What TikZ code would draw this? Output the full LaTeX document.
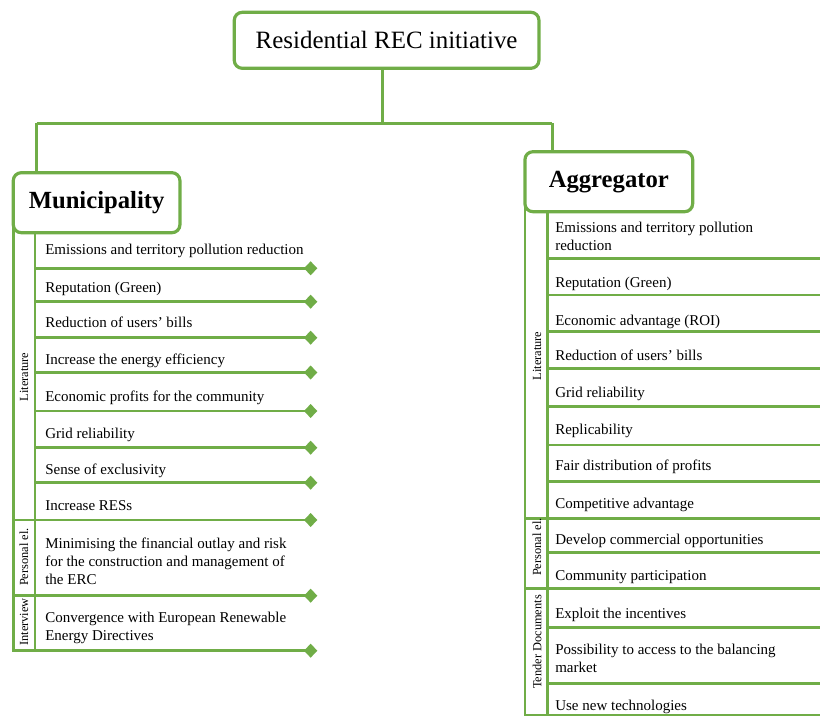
\documentclass[tikz,border=0pt]{standalone}
\usepackage{fontspec}
\setmainfont{Liberation Serif}
\usetikzlibrary{arrows.meta}
\definecolor{grn}{RGB}{112,173,71}
\begin{document}
\begin{tikzpicture}[x=0.75pt,y=-0.75pt,
  box/.style={draw=grn, line width=2.4pt, rounded corners=6pt, fill=white, inner sep=0pt},
  gline/.style={draw=grn, line width=1.9pt},
  dline/.style={gline, -{Diamond[length=10pt,width=10.5pt]}},
  rowtxt/.style={anchor=base west, font=\fontsize{11.25}{13.5}\selectfont, inner sep=0pt, align=left},
  lbl/.style={rotate=90, font=\fontsize{9.3}{11}\selectfont, inner sep=0pt},
  headtxt/.style={font=\fontsize{18.5}{22}\selectfont\bfseries}]
\useasboundingbox (0,0) rectangle (820,720);
\clip (0,0) rectangle (820,720);

% ---- top connectors
\coordinate (hub) at (382.7,123.3);
\coordinate (mj) at (36.7,123.3);
\coordinate (aj) at (552.3,123.3);

% ---- left column lines
\foreach \y in {268.3,301.7,337.7,372.5,411,447.7,482.7}
  \draw[dline] (35,\y) -- (317.3,\y);
\foreach \y in {520,595.7}
  \draw[dline] (13.3,\y) -- (317.3,\y);
\draw[dline, line join=miter] (13.3,225) -- (13.3,650.7) -- (317.3,650.7);
\draw[gline] (35,232.7) -- (35,650.7);

% ---- right column lines
\foreach \y in {258.3,295,331.7,368.3,406.7,445,481.7,552.7,627.3,683.3}
  \draw[dline] (547.7,\y) -- (833,\y);
\foreach \y in {518.3,588.3}
  \draw[dline] (525,\y) -- (833,\y);
\draw[dline, line join=miter] (525,205) -- (525,715) -- (833,715);
\draw[gline] (547.7,211.7) -- (547.7,715);

% ---- boxes
\node[box, minimum width=228.5pt, minimum height=42pt, font=\fontsize{18.7}{22}\selectfont]
  (top) at (386.6,40.3) {Residential REC initiative};
\node[box, minimum width=125pt, minimum height=45pt, headtxt] (mun) at (96.6,202.7) {Municipality};
\node[box, minimum width=125.8pt, minimum height=45pt, headtxt] (agg) at (608.8,181.7) {Aggregator};

\draw[gline] (hub |- top.south) -- (hub);
\draw[gline] (mj) -- (aj);
\draw[gline] (mj) -- (mj |- mun.north);
\draw[gline] (aj) -- (aj |- agg.north);

% ---- left texts (base = baseline of last line)
\node[rowtxt] (m1) at (45,254.7) {Emissions and territory pollution reduction};
\node[rowtxt] (m2) at (45,292) {Reputation (Green)};
\node[rowtxt] (m3) at (45,327.7) {Reduction of users’ bills};
\node[rowtxt] (m4) at (45,364.7) {Increase the energy efficiency};
\node[rowtxt] (m5) at (45,401.4) {Economic profits for the community};
\node[rowtxt] (m6) at (45,438) {Grid reliability};
\node[rowtxt] (m7) at (45,474.4) {Sense of exclusivity};
\node[rowtxt] (m8) at (45,510.4) {Increase RESs};
\node[rowtxt] (m9) at (45,584.7) {Minimising the financial outlay and risk\\for the construction and management of\\the ERC};
\node[rowtxt] (m10) at (45,640.4) {Convergence with European Renewable\\Energy Directives};

\node[lbl] (ml1) at (24,377) {Literature};
\node[lbl] (ml2) at (24,557) {Personal el.};
\node[lbl] (ml3) at (24,622) {Interview};

% ---- right texts
\node[rowtxt] (a1) at (555,250.4) {Emissions and territory pollution\\reduction};
\node[rowtxt] (a2) at (555,287.1) {Reputation (Green)};
\node[rowtxt] (a3) at (555,325.4) {Economic advantage (ROI)};
\node[rowtxt] (a4) at (555,360.4) {Reduction of users’ bills};
\node[rowtxt] (a5) at (555,397.1) {Grid reliability};
\node[rowtxt] (a6) at (555,434.7) {Replicability};
\node[rowtxt] (a7) at (555,470.4) {Fair distribution of profits};
\node[rowtxt] (a8) at (555,508.1) {Competitive advantage};
\node[rowtxt] (a9) at (555,544.7) {Develop commercial opportunities};
\node[rowtxt] (a10) at (555,580.4) {Community participation};
\node[rowtxt] (a11) at (555,618.7) {Exploit the incentives};
\node[rowtxt] (a12) at (555,672.1) {Possibility to access to the balancing\\market};
\node[rowtxt] (a13) at (555,710.4) {Use new technologies};

\node[lbl] (al1) at (537,356) {Literature};
\node[lbl] (al2) at (537,547) {Personal el.};
\node[lbl] (al3) at (537,642) {Tender Documents};
\end{tikzpicture}
\end{document}
